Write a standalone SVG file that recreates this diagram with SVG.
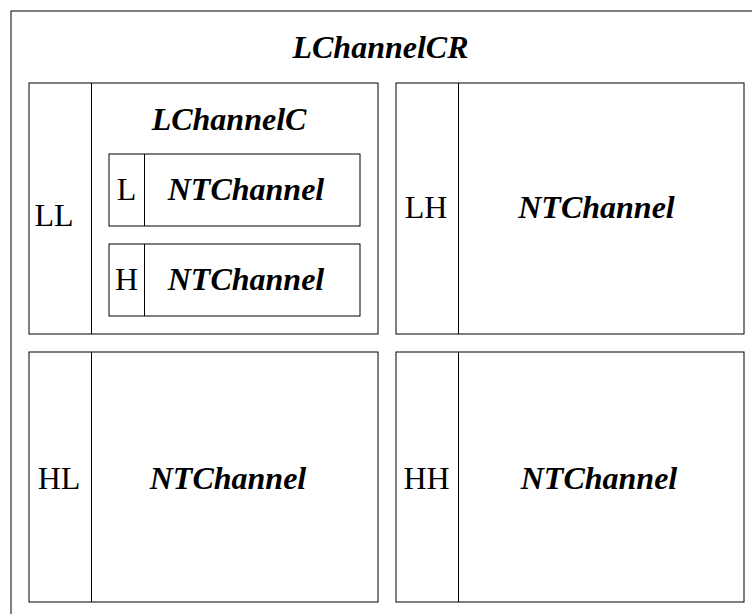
<svg xmlns="http://www.w3.org/2000/svg" width="752" height="614" viewBox="0 0 752 614">
  <style>
    .box { fill: #fff; stroke: #000; stroke-width: 1; }
    .div { stroke: #000; stroke-width: 1; fill: none; }
    .t { font-family: "Liberation Serif", "Times New Roman", serif; font-size: 32px; fill: #000; text-anchor: middle; }
    .ti { font-weight: bold; font-style: italic; }
  </style>
  <rect width="752" height="614" fill="#fff"/>

  <!-- outer channel container -->
  <g id="LChannelCR">
    <rect class="box" x="11" y="11" width="760" height="620"/>
    <text class="t ti" x="380.5" y="58">LChannelCR</text>
  </g>

  <!-- LL: composite channel -->
  <g id="LL">
    <rect class="box" x="29" y="83" width="349" height="251"/>
    <line class="div" x1="91.5" y1="83" x2="91.5" y2="334"/>
    <text class="t" x="54" y="226">LL</text>
    <text class="t ti" x="229" y="130">LChannelC</text>
  </g>
  <g id="LL-L">
    <rect class="box" x="109" y="154" width="251" height="72"/>
    <line class="div" x1="144.5" y1="154" x2="144.5" y2="226"/>
    <text class="t" x="126.5" y="200">L</text>
    <text class="t ti" x="246" y="200">NTChannel</text>
  </g>
  <g id="LL-H">
    <rect class="box" x="109" y="244" width="251" height="72"/>
    <line class="div" x1="144.5" y1="244" x2="144.5" y2="316"/>
    <text class="t" x="126.5" y="290">H</text>
    <text class="t ti" x="246" y="290">NTChannel</text>
  </g>

  <!-- LH -->
  <g id="LH">
    <rect class="box" x="396" y="83" width="348" height="251"/>
    <line class="div" x1="458.5" y1="83" x2="458.5" y2="334"/>
    <text class="t" x="426" y="218">LH</text>
    <text class="t ti" x="596.5" y="218">NTChannel</text>
  </g>

  <!-- HL -->
  <g id="HL">
    <rect class="box" x="29" y="352" width="349" height="250"/>
    <line class="div" x1="91.5" y1="352" x2="91.5" y2="602"/>
    <text class="t" x="59" y="489">HL</text>
    <text class="t ti" x="228" y="489">NTChannel</text>
  </g>

  <!-- HH -->
  <g id="HH">
    <rect class="box" x="396" y="352" width="348" height="250"/>
    <line class="div" x1="458.5" y1="352" x2="458.5" y2="602"/>
    <text class="t" x="426.5" y="489">HH</text>
    <text class="t ti" x="599" y="489">NTChannel</text>
  </g>

  <g id="connectors"/>
</svg>
